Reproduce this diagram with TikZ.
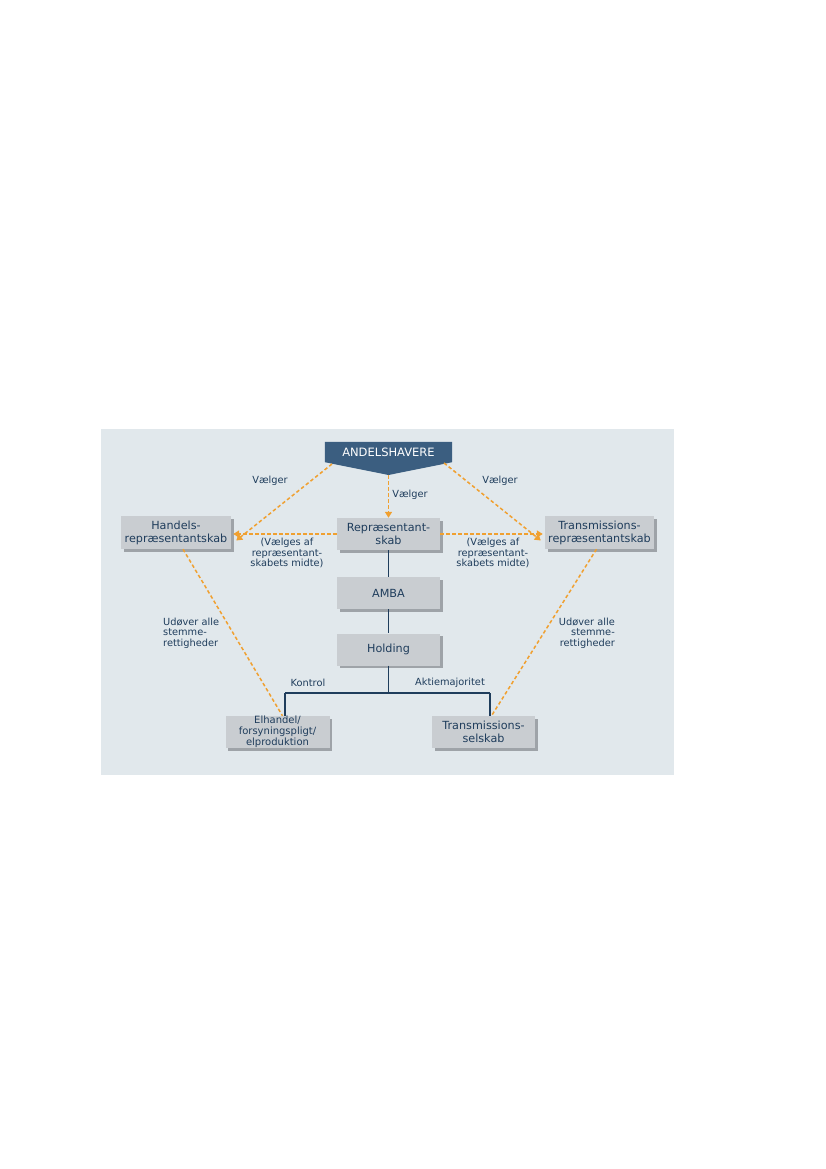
\documentclass[tikz,border=0pt]{standalone}
\usepackage{fontspec}
\setmainfont{DejaVu Sans}
\usetikzlibrary{arrows.meta,shadows}
\definecolor{panel}{HTML}{E1E8EC}
\definecolor{boxfill}{HTML}{C9CDD1}
\definecolor{boxshadow}{HTML}{9EA3A8}
\definecolor{navy}{HTML}{1F3D5C}
\definecolor{headfill}{HTML}{3B5E80}
\definecolor{orangeline}{HTML}{F0A030}
\begin{document}
\begin{tikzpicture}[x=1pt,y=-1pt,
  every node/.style={text=navy, inner sep=0pt},
  gbox/.style={fill=boxfill, minimum width=103pt, minimum height=32pt, align=center,
     font=\fontsize{11.2}{13}\selectfont,
     drop shadow={shadow xshift=2.5pt, shadow yshift=-2.5pt, fill=boxshadow, opacity=1}},
  lbl/.style={font=\fontsize{9.8}{10.5}\selectfont, align=center},
  navyline/.style={draw=navy, line width=1.5pt},
  oline/.style={draw=orangeline, line width=1.5pt, dash pattern=on 3.5pt off 2.5pt},
  oarrow/.style={oline, -{Triangle[width=7pt,length=6pt]}}
]
\useasboundingbox (0,0) rectangle (826,1169);
\fill[white] (0,0) rectangle (826,1169);
\fill[panel] (101,429) rectangle (674,775);

% head shape
\node[minimum width=127pt, minimum height=20pt] (andel) at (388.5,452) {};
\coordinate (andtip) at (388.5,475);
\fill[headfill] (andel.north west) -- (andel.north east) -- (andel.south east) -- (andtip) -- (andel.south west) -- cycle;
\node[text=white, font=\fontsize{11.5}{13}\selectfont] (andtext) at (388.5,452) {ANDELSHAVERE};

% boxes
\node[gbox] (repr) at (388.5,534) {Repræsentant-\\skab};
\node[gbox] (amba) at (388.5,593) {AMBA};
\node[gbox] (hold) at (388.5,649.5) {Holding};
\node[gbox, minimum width=110pt, minimum height=33pt] (handels) at (176,532.5) {Handels-\\repræsentantskab};
\node[gbox, minimum width=109pt, minimum height=33pt] (trepr) at (599.5,532.5) {Transmissions-\\repræsentantskab};
\node[gbox, minimum width=104pt, font=\fontsize{10}{11}\selectfont] (elh) at (277.5,732) {Elhandel/\\forsyningspligt/\\elproduktion};
\node[gbox] (tsel) at (483.5,732) {Transmissions-\\selskab};

% navy tree
\coordinate (junc) at (388.5,693);
\coordinate (jl) at (285,693);
\coordinate (jr) at (490,693);
\draw[navyline] (repr.south) -- (amba.north);
\draw[navyline] (amba.south) -- (hold.north);
\draw[navyline] (hold.south) -- (junc);
\draw[navyline] (jl) -- (jr);
\draw[navyline] (jl) -- (jl |- elh.north);
\draw[navyline] (jr) -- (jr |- tsel.north);

% orange connectors
\coordinate (aL) at (332,464);
\coordinate (aR) at (444,463);
\draw[oarrow] (aL) -- ([xshift=5pt,yshift=-8pt]handels.east);
\draw[oarrow] (aR) -- ([xshift=-4pt,yshift=-8pt]trepr.west);
\draw[oarrow] (andtip) -- (repr.north);
\draw[oarrow] (repr.west) -- ([xshift=2pt]handels.east |- repr.west);
\draw[oarrow] (repr.east) -- ([xshift=-2pt]trepr.west |- repr.east);
\draw[oline] ([xshift=7pt]handels.south) -- ([xshift=5pt]elh.north);
\draw[oline] ([xshift=-3pt]trepr.south) -- ([xshift=8pt]tsel.north);

% labels
\node[lbl] (v1) at (270,481) {Vælger};
\node[lbl] (v2) at (410,495) {Vælger};
\node[lbl] (v3) at (500,481) {Vælger};
\node[lbl] (va) at (287,553) {(Vælges af\\repræsentant-\\skabets midte)};
\node[lbl] (vb) at (493,553) {(Vælges af\\repræsentant-\\skabets midte)};
\node[lbl, align=left, anchor=west] (ua) at (163,633) {Udøver alle\\stemme-\\rettigheder};
\node[lbl, align=right, anchor=east] (ub) at (615,633) {Udøver alle\\stemme-\\rettigheder};
\node[lbl] (k) at (308,683) {Kontrol};
\node[lbl] (am) at (450,683) {Aktiemajoritet};
\end{tikzpicture}
\end{document}
